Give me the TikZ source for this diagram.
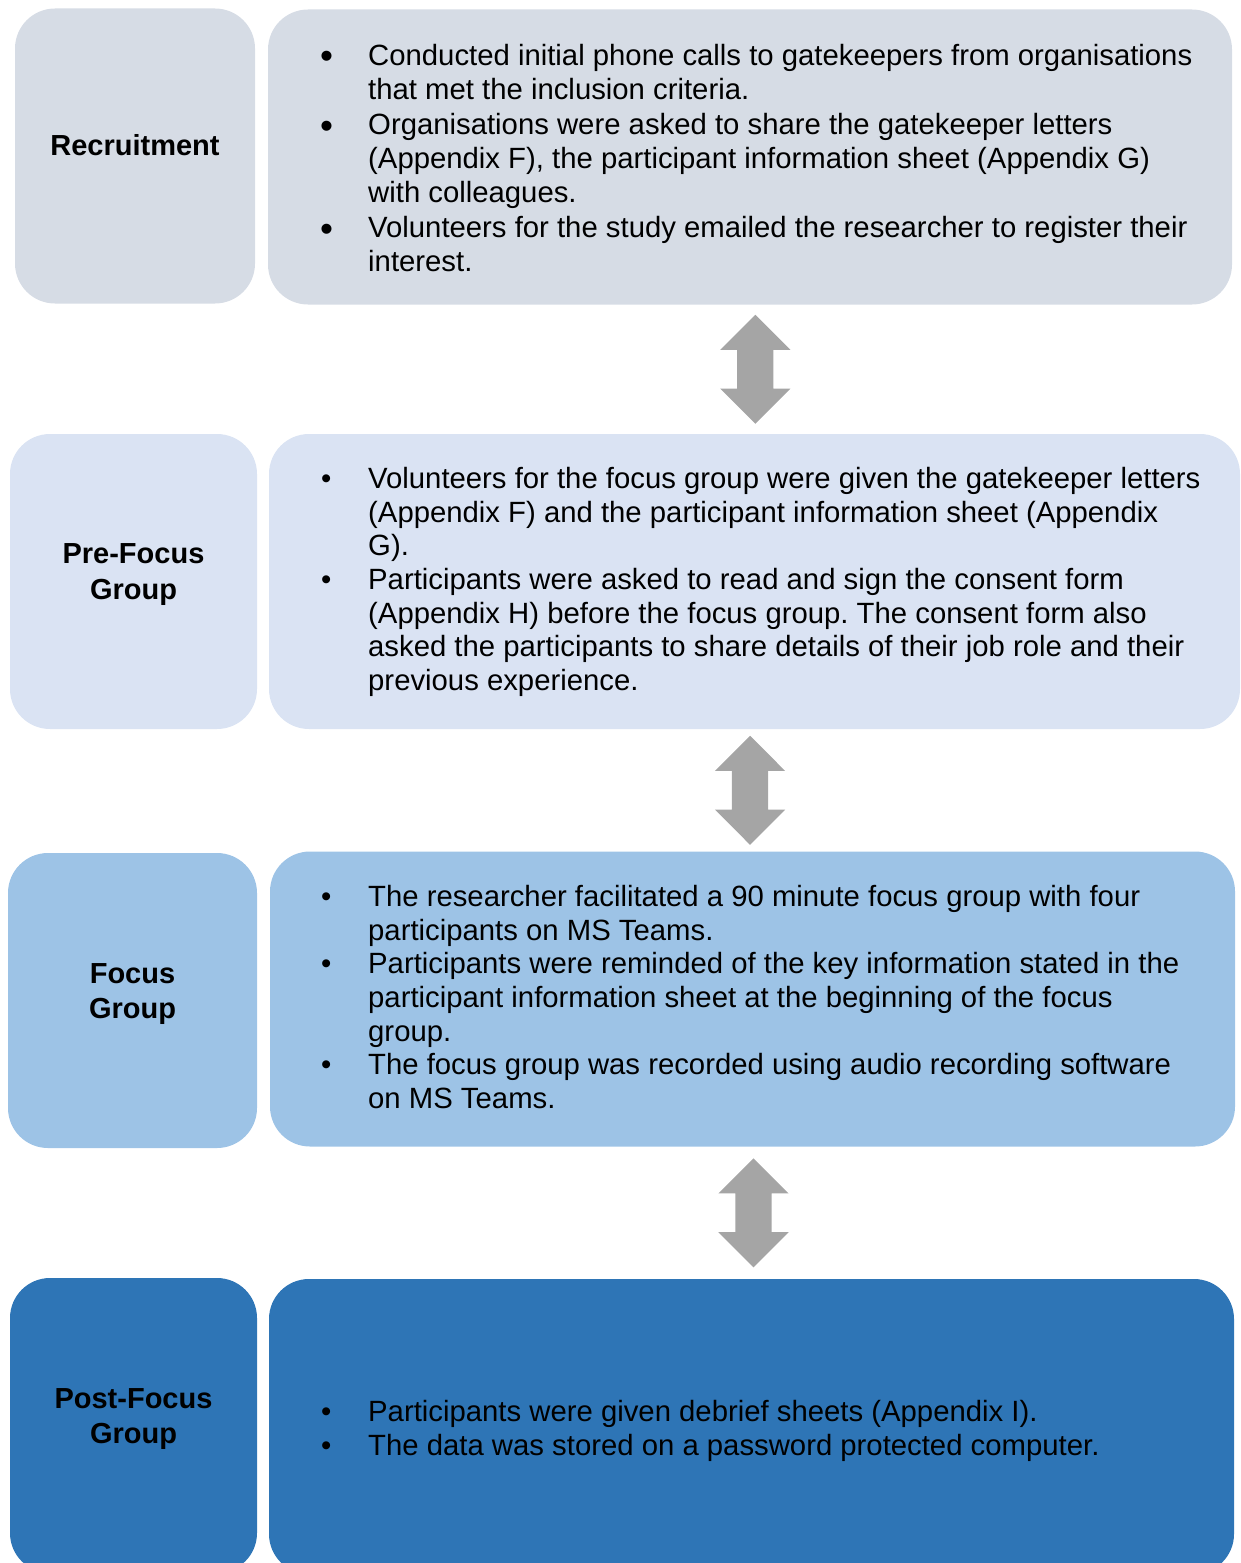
\documentclass[tikz,border=0pt]{standalone}
\usepackage{fontspec}
\setmainfont{Liberation Sans}
\usepackage{xcolor}
\definecolor{recfill}{HTML}{D6DCE5}
\definecolor{prefill}{HTML}{DAE3F3}
\definecolor{focfill}{HTML}{9DC3E6}
\definecolor{postfill}{HTML}{2E75B6}
\definecolor{linkgray}{HTML}{A5A5A5}
\usetikzlibrary{positioning,shapes.arrows,calc}
\frenchspacing
% bullets and continuation indent for the detail lists
\newcommand{\bigbul}{\makebox[48pt][l]{\hspace{0pt}\raisebox{-3.5pt}{\fontsize{37}{37}\selectfont •}}}
\newcommand{\smallbul}{\makebox[48pt][l]{\hspace{1pt}•}}
\newcommand{\contline}{\hspace*{48pt}}

\begin{document}
\begin{tikzpicture}[x=1pt, y=1pt,
    stagebox/.style={draw=none, rounded corners=40pt, minimum width=#1, minimum height=295},
    stagelabel/.style={font=\fontsize{29}{35.5}\selectfont\bfseries, align=center, inner sep=0},
    listtext/.style={font=\fontsize{29.3}{33.7}\selectfont, align=left, anchor=west, inner sep=0},
    linkarrow/.style={double arrow, fill=linkgray, draw=none, rotate=90, inner xsep=0,
      inner ysep=18, minimum height=109, double arrow head extend=17}]
  \useasboundingbox (0,0) rectangle (1240,-1563);
  \clip (0,0) rectangle (1240,-1563);

  % stage boxes
  \node[stagebox=240, fill=recfill] (recL) at (135,-156) {};
  \node[stagebox=964, fill=recfill] (recR) at (750,-157) {};
  \node[stagebox=247, fill=prefill] (preL) at (133.5,-581.5) {};
  \node[stagebox=971, fill=prefill] (preR) at (754.5,-581.5) {};
  \node[stagebox=249, fill=focfill] (focL) at (132.5,-1000.5) {};
  \node[stagebox=965, fill=focfill] (focR) at (752.5,-999) {};
  \node[stagebox=247, fill=postfill] (postL) at (133.5,-1425.5) {};
  \node[stagebox=965, fill=postfill] (postR) at (751.5,-1426.5) {};

  % stage names
  \node[stagelabel] (recLab) at ([yshift=11]recL.center) {Recruitment};
  \node[stagelabel] (preLab) at ([yshift=11-4]preL.center) {Pre-Focus\\Group};
  \node[stagelabel] (focLab) at ([yshift=10-3.5]focL.center) {Focus\\Group};
  \node[stagelabel] (postLab) at ([yshift=10-3.5]postL.center) {Post-Focus\\Group};

  % details
  \node[listtext] (recTxt) at (320,-158) {%
    \bigbul Conducted initial phone calls to gatekeepers from organisations\\
    \contline that met the inclusion criteria.\\[2pt]
    \bigbul Organisations were asked to share the gatekeeper letters\\
    \contline (Appendix F), the participant information sheet (Appendix G)\\
    \contline with colleagues.\\[2pt]
    \bigbul Volunteers for the study emailed the researcher to register their\\
    \contline interest.};
  \node[listtext] (preTxt) at (320,-582) {%
    \smallbul Volunteers for the focus group were given the gatekeeper letters\\
    \contline (Appendix F) and the participant information sheet (Appendix\\
    \contline G).\\
    \smallbul Participants were asked to read and sign the consent form\\
    \contline (Appendix H) before the focus group. The consent form also\\
    \contline asked the participants to share details of their job role and their\\
    \contline previous experience.};
  \node[listtext] (focTxt) at (320,-997) {%
    \smallbul The researcher facilitated a 90 minute focus group with four\\
    \contline participants on MS Teams.\\
    \smallbul Participants were reminded of the key information stated in the\\
    \contline participant information sheet at the beginning of the focus\\
    \contline group.\\
    \smallbul The focus group was recorded using audio recording software\\
    \contline on MS Teams.};
  \node[listtext] (postTxt) at (320,-1431) {%
    \smallbul Participants were given debrief sheets (Appendix I).\\
    \smallbul The data was stored on a password protected computer.};

  % links between stages
  \node[linkarrow] (link1) at ([xshift=3]$(recR.south)!0.5!(preR.north)$) {};
  \node[linkarrow] (link2) at ([xshift=-3.5]$(preR.south)!0.5!(focR.north)$) {};
  \node[linkarrow] (link3) at ([xshift=1.5]$(focR.south)!0.5!(postR.north)$) {};
\end{tikzpicture}
\end{document}
